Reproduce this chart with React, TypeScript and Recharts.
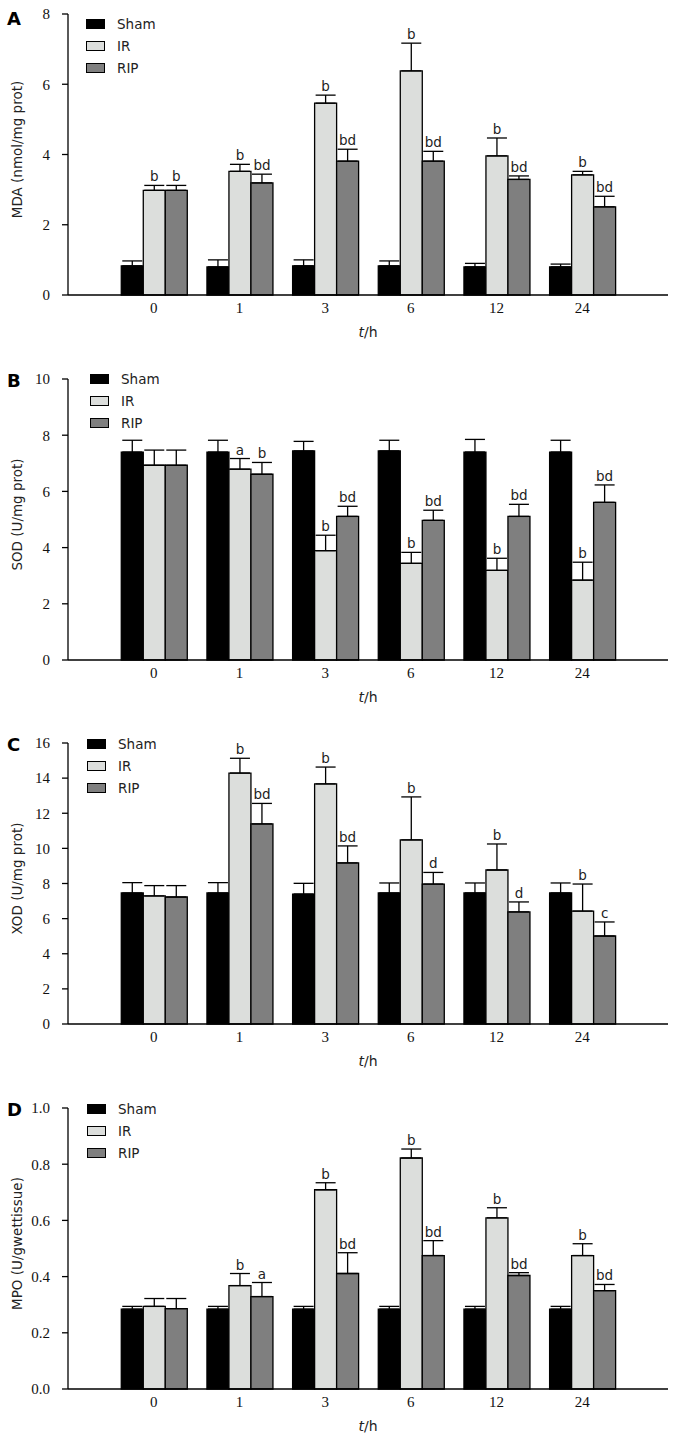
import React from 'react';
import { BarChart, Bar, XAxis, YAxis, ErrorBar, LabelList, Legend, Label } from 'recharts';

const times = ['0', '1', '3', '6', '12', '24'];
const groups = ['Sham', 'IR', 'RIP'];

// A: MDA (nmol/mg prot)
const mdaSham = [0.83, 0.8, 0.83, 0.83, 0.8, 0.8];
const mdaShamErr = [0.14, 0.2, 0.17, 0.14, 0.1, 0.08];
const mdaIR = [2.98, 3.52, 5.46, 6.38, 3.96, 3.42];
const mdaIRErr = [0.14, 0.2, 0.23, 0.79, 0.51, 0.1];
const mdaRIP = [2.98, 3.19, 3.81, 3.81, 3.29, 2.51];
const mdaRIPErr = [0.14, 0.25, 0.34, 0.28, 0.1, 0.3];
const mdaIRSig = ['b', 'b', 'b', 'b', 'b', 'b'];
const mdaRIPSig = ['b', 'bd', 'bd', 'bd', 'bd', 'bd'];

// B: SOD (U/mg prot)
const sodSham = [7.4, 7.4, 7.44, 7.44, 7.4, 7.4];
const sodShamErr = [0.42, 0.42, 0.34, 0.38, 0.45, 0.42];
const sodIR = [6.93, 6.79, 3.89, 3.44, 3.19, 2.84];
const sodIRErr = [0.54, 0.38, 0.55, 0.39, 0.43, 0.64];
const sodRIP = [6.93, 6.61, 5.11, 4.97, 5.11, 5.61];
const sodRIPErr = [0.54, 0.42, 0.36, 0.36, 0.43, 0.62];
const sodIRSig = ['', 'a', 'b', 'b', 'b', 'b'];
const sodRIPSig = ['', 'b', 'bd', 'bd', 'bd', 'bd'];

// C: XOD (U/mg prot)
const xodSham = [7.46, 7.46, 7.4, 7.46, 7.46, 7.46];
const xodShamErr = [0.59, 0.59, 0.61, 0.57, 0.57, 0.57];
const xodIR = [7.29, 14.29, 13.67, 10.48, 8.77, 6.43];
const xodIRErr = [0.59, 0.84, 0.96, 2.45, 1.48, 1.54];
const xodRIP = [7.23, 11.39, 9.17, 7.97, 6.38, 5.01];
const xodRIPErr = [0.65, 1.17, 0.97, 0.66, 0.57, 0.8];
const xodIRSig = ['', 'b', 'b', 'b', 'b', 'b'];
const xodRIPSig = ['', 'bd', 'bd', 'd', 'd', 'c'];

// D: MPO (U/gwettissue)
const mpoSham = [0.284, 0.284, 0.284, 0.284, 0.284, 0.284];
const mpoShamErr = [0.01, 0.01, 0.01, 0.01, 0.01, 0.01];
const mpoIR = [0.294, 0.368, 0.709, 0.822, 0.609, 0.475];
const mpoIRErr = [0.028, 0.043, 0.025, 0.032, 0.036, 0.042];
const mpoRIP = [0.286, 0.329, 0.411, 0.475, 0.404, 0.35];
const mpoRIPErr = [0.036, 0.05, 0.074, 0.053, 0.01, 0.022];
const mpoIRSig = ['', 'b', 'b', 'b', 'b', 'b'];
const mpoRIPSig = ['', 'a', 'bd', 'bd', 'bd', 'bd'];

const SANS = 'DejaVu Sans';
const SERIF = 'Liberation Serif';
const SHAM_FILL = '#000000';
const IR_FILL = '#dcdedc';
const RIP_FILL = '#7f7f7f';

type Row = {
  t: string;
  sham: number;
  shamErr: number[];
  ir: number;
  irErr: number[];
  rip: number;
  ripErr: number[];
  irSig: string;
  ripSig: string;
};

const buildRows = (
  sham: number[], shamErr: number[],
  ir: number[], irErr: number[],
  rip: number[], ripErr: number[],
  irSig: string[], ripSig: string[],
): Row[] =>
  times.map((t, i) => ({
    t,
    sham: sham[i],
    shamErr: [0, shamErr[i]],
    ir: ir[i],
    irErr: [0, irErr[i]],
    rip: rip[i],
    ripErr: [0, ripErr[i]],
    irSig: irSig[i],
    ripSig: ripSig[i],
  }));

// letter sits just above the top of the error bar
const makeSigLabel = (rows: Row[], key: 'ir' | 'rip') => (props: any) => {
  const vb = props.viewBox || props;
  const row = rows[props.index];
  if (!row || !props.value) return null;
  const h = Math.abs(vb.height);
  const top = Math.min(vb.y, vb.y + vb.height);
  const errPx = (row[`${key}Err` as 'irErr'][1] * h) / row[key];
  return (
    <text
      x={vb.x + vb.width / 2}
      y={top - errPx - 4}
      textAnchor="middle"
      fontFamily={SANS}
      fontSize={13.5}
      fill="#222"
    >
      {props.value}
    </text>
  );
};

const LegendBox = ({ payload }: any) => {
  const items = [...(payload || [])].sort((a: any, b: any) => groups.indexOf(a.value) - groups.indexOf(b.value));
  return (
    <div style={{ fontFamily: SANS, fontSize: 13.5, color: '#222' }}>
      {items.map((p: any) => (
        <div key={p.value} style={{ display: 'flex', alignItems: 'center', height: 22 }}>
          <span
            style={{
              display: 'inline-block',
              width: 19,
              height: 10,
              boxSizing: 'border-box',
              border: '1px solid #000',
              background: p.payload?.fill || p.color,
            }}
          />
          <span style={{ marginLeft: 12 }}>{p.value}</span>
        </div>
      ))}
    </div>
  );
};

interface PanelProps {
  letter: string;
  title: string;
  rows: Row[];
  ticks: number[];
  top: number;
  legendTop: number;
  legendLeft: number;
  letterDy: number;
  fmt?: (v: number) => string;
}

const Panel = ({ letter, title, rows, ticks, top, legendTop, legendLeft, letterDy, fmt }: PanelProps) => {
  const tickStyle = { fontFamily: SERIF, fontSize: 15, fill: '#111' };
  return (
    <div style={{ position: 'absolute', top, left: 0 }}>
      <BarChart
        width={677}
        height={348}
        data={rows}
        margin={{ top: 14, right: 9, left: 0, bottom: 0 }}
        barCategoryGap="12%"
        barGap={0}
      >
        <XAxis
          dataKey="t"
          interval={0}
          padding={{ left: 43, right: 43 }}
          tickLine={false}
          tickSize={0}
          tickMargin={7}
          height={53}
          axisLine={{ stroke: '#000', strokeWidth: 1.3 }}
          tick={tickStyle}
        >
          <Label
            content={(p: any) => {
              const vb = p.viewBox;
              return (
                <text x={vb.x + vb.width / 2} y={vb.y + 42} textAnchor="middle" fontFamily={SANS} fontSize={14} fill="#222">
                  <tspan fontStyle="italic">t</tspan>
                  <tspan>/h</tspan>
                </text>
              );
            }}
          />
        </XAxis>
        <YAxis
          type="number"
          domain={[ticks[0], ticks[ticks.length - 1]]}
          ticks={ticks}
          interval={0}
          width={68}
          tickSize={6}
          tickMargin={12}
          tickFormatter={fmt}
          axisLine={{ stroke: '#000', strokeWidth: 1.3 }}
          tickLine={{ stroke: '#000', strokeWidth: 1.3 }}
          tick={tickStyle}
        >
          <Label
            content={(p: any) => {
              const vb = p.viewBox;
              const cy = vb.y + vb.height / 2 - 5;
              return (
                <text
                  x={17}
                  y={cy}
                  transform={`rotate(-90 17 ${cy})`}
                  textAnchor="middle"
                  dominantBaseline="central"
                  fontFamily={SANS}
                  fontSize={13.5}
                  fill="#222"
                >
                  {title}
                </text>
              );
            }}
          />
          <Label
            content={(p: any) => (
              <text x={7} y={p.viewBox.y + letterDy} fontFamily={SANS} fontWeight="bold" fontSize={18} fill="#000">
                {letter}
              </text>
            )}
          />
        </YAxis>
        <Legend
          layout="horizontal"
          verticalAlign="middle"
          align="center"
          content={<LegendBox />}
          wrapperStyle={{ top: legendTop, left: legendLeft, width: 'auto' }}
        />
        <Bar dataKey="sham" name="Sham" fill={SHAM_FILL} stroke="#000" strokeWidth={1.3} isAnimationActive={false}>
          <ErrorBar dataKey="shamErr" width={10} stroke="#000" strokeWidth={1.3} />
        </Bar>
        <Bar dataKey="ir" name="IR" fill={IR_FILL} stroke="#000" strokeWidth={1.3} isAnimationActive={false}>
          <ErrorBar dataKey="irErr" width={10} stroke="#000" strokeWidth={1.3} />
          <LabelList dataKey="irSig" content={makeSigLabel(rows, 'ir')} />
        </Bar>
        <Bar dataKey="rip" name="RIP" fill={RIP_FILL} stroke="#000" strokeWidth={1.3} isAnimationActive={false}>
          <ErrorBar dataKey="ripErr" width={10} stroke="#000" strokeWidth={1.3} />
          <LabelList dataKey="ripSig" content={makeSigLabel(rows, 'rip')} />
        </Bar>
      </BarChart>
    </div>
  );
};

const mdaRows = buildRows(mdaSham, mdaShamErr, mdaIR, mdaIRErr, mdaRIP, mdaRIPErr, mdaIRSig, mdaRIPSig);
const sodRows = buildRows(sodSham, sodShamErr, sodIR, sodIRErr, sodRIP, sodRIPErr, sodIRSig, sodRIPSig);
const xodRows = buildRows(xodSham, xodShamErr, xodIR, xodIRErr, xodRIP, xodRIPErr, xodIRSig, xodRIPSig);
const mpoRows = buildRows(mpoSham, mpoShamErr, mpoIR, mpoIRErr, mpoRIP, mpoRIPErr, mpoIRSig, mpoRIPSig);

export default function App() {
  return (
    <div style={{ position: 'absolute', top: 0, left: 0, width: 677, height: 1442, overflow: 'hidden', background: '#fff' }}>
      <Panel letter="A" title="MDA (nmol/mg prot)" rows={mdaRows} ticks={[0, 2, 4, 6, 8]} top={0} legendTop={13} legendLeft={86} letterDy={11} />
      <Panel letter="B" title="SOD (U/mg prot)" rows={sodRows} ticks={[0, 2, 4, 6, 8, 10]} top={365} legendTop={3} legendLeft={90} letterDy={8} />
      <Panel letter="C" title="XOD (U/mg prot)" rows={xodRows} ticks={[0, 2, 4, 6, 8, 10, 12, 14, 16]} top={729} legendTop={4} legendLeft={87} letterDy={8} />
      <Panel
        letter="D"
        title="MPO (U/gwettissue)"
        rows={mpoRows}
        ticks={[0, 0.2, 0.4, 0.6, 0.8, 1.0]}
        top={1094}
        legendTop={4}
        legendLeft={87}
        letterDy={8}
        fmt={(v: number) => v.toFixed(1)}
      />
    </div>
  );
}
